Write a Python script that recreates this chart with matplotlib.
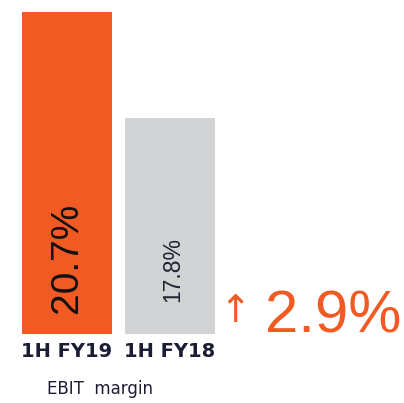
import matplotlib
matplotlib.use("Agg")
import matplotlib.pyplot as plt

periods = ["1H FY19", "1H FY18"]
margins = [20.7, 17.8]
change = 2.9
caption = "EBIT  margin"

orange = "#F15A22"
grey = "#D1D3D4"
navy = "#1C1C36"

plt.rcParams['font.family'] = ['Liberation Sans', 'DejaVu Sans']

fig = plt.figure(figsize=(4.04, 4.03), dpi=100)
ax = fig.add_axes([0, 0, 1, 1])
ax.set_xlim(-0.65, 3.27)
ax.set_ylim(10.0, 21.03)
ax.axis("off")

base = 11.9
xs = range(len(margins))
bars = ax.bar(xs, [m - base for m in margins], bottom=base, width=0.874,
              color=[orange, grey])

# value labels inside the bars, rotated
ax.text(0.0, 13.98, f"{margins[0]}%", rotation=90, ha="center", va="center",
        fontsize=28, color="#111111")
ax.text(1.03, 13.65, f"{margins[1]}%", rotation=90, ha="center", va="center",
        fontsize=16.5, color="#222233")

# period labels under the bars
for x, p in zip(xs, periods):
    ax.text(x, 11.42, p, ha="center", va="center", fontsize=14,
            fontweight="bold", color=navy, family=['DejaVu Sans'])
ax.text(0.32, 10.37, caption, ha="center", va="center", fontsize=12,
        color=navy, family=['DejaVu Sans'])

# change arrow and number
ax.text(1.63, 12.48, "\u2191", ha="center", va="center", fontsize=27,
        color=orange, family=['DejaVu Sans'])
ax.text(1.92, 11.93, f"{change}%", ha="left", va="baseline", fontsize=43,
        color=orange)

fig.savefig("out.png", dpi=100)
